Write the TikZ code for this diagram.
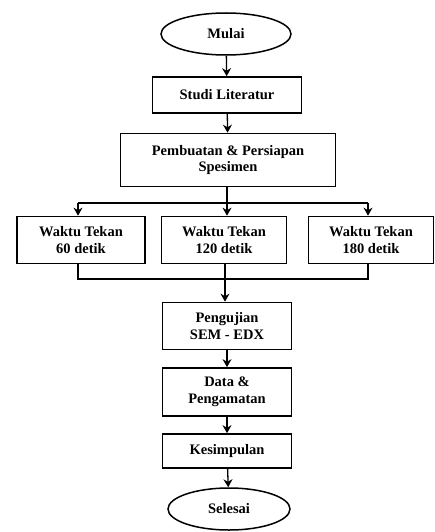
\documentclass[tikz,border=0pt]{standalone}
\usepackage{fontspec}
\setmainfont{Liberation Serif}
\usetikzlibrary{shapes.geometric,arrows.meta}
\begin{document}
\begin{tikzpicture}[x=1pt,y=-1pt,
  every node/.style={font=\bfseries\fontsize{14.5}{16.5}\selectfont, align=center, inner sep=0pt},
  proc/.style={draw, line width=1.7pt, minimum height=#1},
  term/.style={draw, ellipse, line width=1.5pt},
  conn/.style={line width=1.3pt},
  arr/.style={conn, -{Stealth[length=8pt,width=9pt]}}]
\useasboundingbox (0,0) rectangle (435,532);
\node[term, minimum width=130pt, minimum height=42pt] (mulai) at (226,34) {Mulai};
\node[proc=36pt, minimum width=149pt] (studi) at (227,95) {Studi Literatur};
\node[proc=53pt, minimum width=215pt] (buat) at (228,160) {Pembuatan \& Persiapan\\Spesimen};
\node[proc=47pt, minimum width=128pt] (w60) at (81,240) {Waktu Tekan\\60 detik};
\node[proc=47pt, minimum width=125pt] (w120) at (224,240) {Waktu Tekan\\120 detik};
\node[proc=47pt, minimum width=125pt] (w180) at (371,240) {Waktu Tekan\\180 detik};
\node[proc=47pt, minimum width=129pt] (uji) at (227,326) {Pengujian\\SEM - EDX};
\node[proc=48pt, minimum width=129pt] (data) at (227,392) {Data \&\\Pengamatan};
\node[proc=34pt, minimum width=129pt] (kes) at (227,451) {Kesimpulan};
\node[term, minimum width=122pt, minimum height=42pt] (sel) at (229,509) {Selesai};
\coordinate (split) at (227,203);
\coordinate (sl) at (78,203);
\coordinate (sr) at (368,203);
\coordinate (ml) at (78,279);
\coordinate (mr) at (368,279);
\coordinate (mm) at (225,279);
\draw[arr] (mulai) -- (studi);
\draw[arr] (studi) -- (buat);
\draw[conn] (buat.south -| split) -- (split);
\draw[conn] (sl) -- (sr);
\draw[arr] (sl) -- (w60.north -| sl);
\draw[arr] (split) -- (w120.north -| split);
\draw[arr] (sr) -- (w180.north -| sr);
\draw[conn] (w60.south -| ml) -- (ml) -- (mr) -- (w180.south -| mr);
\draw[arr] (w120.south -| mm) -- (uji.north -| mm);
\draw[arr] (uji) -- (data);
\draw[arr] (data) -- (kes);
\draw[arr] (kes) -- (sel);
\end{tikzpicture}
\end{document}
